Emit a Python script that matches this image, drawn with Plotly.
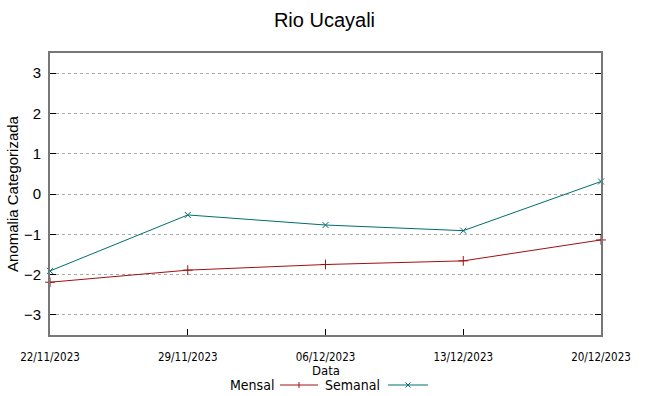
import plotly.graph_objects as go

dates = ["2023-11-22", "2023-11-29", "2023-12-06", "2023-12-13", "2023-12-20"]
tick_labels = ["22/11/2023", "29/11/2023", "06/12/2023", "13/12/2023", "20/12/2023"]
mensal = [-2.19, -1.89, -1.75, -1.66, -1.14]
semanal = [-1.91, -0.52, -0.77, -0.91, 0.31]
y_ticks = [-3, -2, -1, 0, 1, 2, 3]

c_mensal = "#a01010"
c_semanal = "#006e6e"
narrow = "Liberation Sans Narrow, Arial Narrow, DejaVu Sans Condensed, sans-serif"

fig = go.Figure()
fig.add_trace(go.Scatter(x=dates, y=mensal, name="Mensal", mode="lines+markers",
                         line=dict(color=c_mensal, width=1),
                         marker=dict(symbol="cross-thin", size=7, line=dict(color=c_mensal, width=1)),
                         showlegend=False, cliponaxis=False))
fig.add_trace(go.Scatter(x=dates, y=semanal, name="Semanal", mode="lines+markers",
                         line=dict(color=c_semanal, width=1),
                         marker=dict(symbol="x-thin", size=6, line=dict(color=c_semanal, width=1)),
                         showlegend=False, cliponaxis=False))

# manual legend (text followed by sample, gnuplot style)
def px2x(p):
    return (p - 50) / 551.0

def py2y(p):
    return (335 - p) / 282.0

ly = py2y(385)
annotations = [
    dict(text="Data", x=0.5, y=py2y(370), xref="paper", yref="paper", xanchor="center",
         yanchor="middle", showarrow=False, font=dict(family=narrow, size=13)),
    dict(text="Mensal", x=px2x(276), y=ly, xref="paper", yref="paper", xanchor="right",
         yanchor="middle", showarrow=False, font=dict(family=narrow, size=14)),
    dict(text="Semanal", x=px2x(382), y=ly, xref="paper", yref="paper", xanchor="right",
         yanchor="middle", showarrow=False, font=dict(family=narrow, size=14)),
]
shapes = [
    dict(type="line", xref="paper", yref="paper", x0=px2x(280), x1=px2x(318), y0=ly, y1=ly,
         line=dict(color=c_mensal, width=1)),
    dict(type="line", xref="paper", yref="paper", x0=px2x(299), x1=px2x(299), y0=py2y(382), y1=py2y(388),
         line=dict(color=c_mensal, width=1)),
    dict(type="line", xref="paper", yref="paper", x0=px2x(388), x1=px2x(428), y0=ly, y1=ly,
         line=dict(color=c_semanal, width=1)),
    dict(type="line", xref="paper", yref="paper", x0=px2x(405.5), x1=px2x(410.5), y0=py2y(382.5), y1=py2y(387.5),
         line=dict(color=c_semanal, width=1)),
    dict(type="line", xref="paper", yref="paper", x0=px2x(405.5), x1=px2x(410.5), y0=py2y(387.5), y1=py2y(382.5),
         line=dict(color=c_semanal, width=1)),
]

fig.update_layout(
    width=649, height=396,
    paper_bgcolor="white", plot_bgcolor="white",
    margin=dict(l=50, r=48, t=53, b=61, autoexpand=False),
    font=dict(family="Liberation Sans, Arial, sans-serif", color="black"),
    title=dict(text="Rio Ucayali", x=0.5, xanchor="center", y=0.95, yanchor="middle",
               font=dict(size=20, color="black"), automargin=False),
    xaxis=dict(type="date", range=[dates[0], dates[-1]], tickvals=dates, ticktext=tick_labels,
               tickfont=dict(family=narrow, size=11.5),
               ticks="inside", ticklen=6, tickcolor="black", showgrid=False,
               showline=True, linecolor="#777777", linewidth=2, mirror=True,
               ticklabelstandoff=10, automargin=False),
    yaxis=dict(range=[-3.5, 3.5], tickvals=y_ticks, tickfont=dict(size=15),
               ticks="inside", ticklen=6, tickcolor="black",
               showgrid=True, gridcolor="#aaaaaa", griddash="dot", gridwidth=1,
               zeroline=False, showline=True, linecolor="#777777", linewidth=2, mirror="ticks",
               automargin=False, ticklabelstandoff=4,
               title=dict(text="Anomalia Categorizada", font=dict(size=15), standoff=2)),
    annotations=annotations,
    shapes=shapes,
    showlegend=False,
)

fig.write_html("out.html", config={"displayModeBar": False},
               post_script="document.body.style.margin='0';")
